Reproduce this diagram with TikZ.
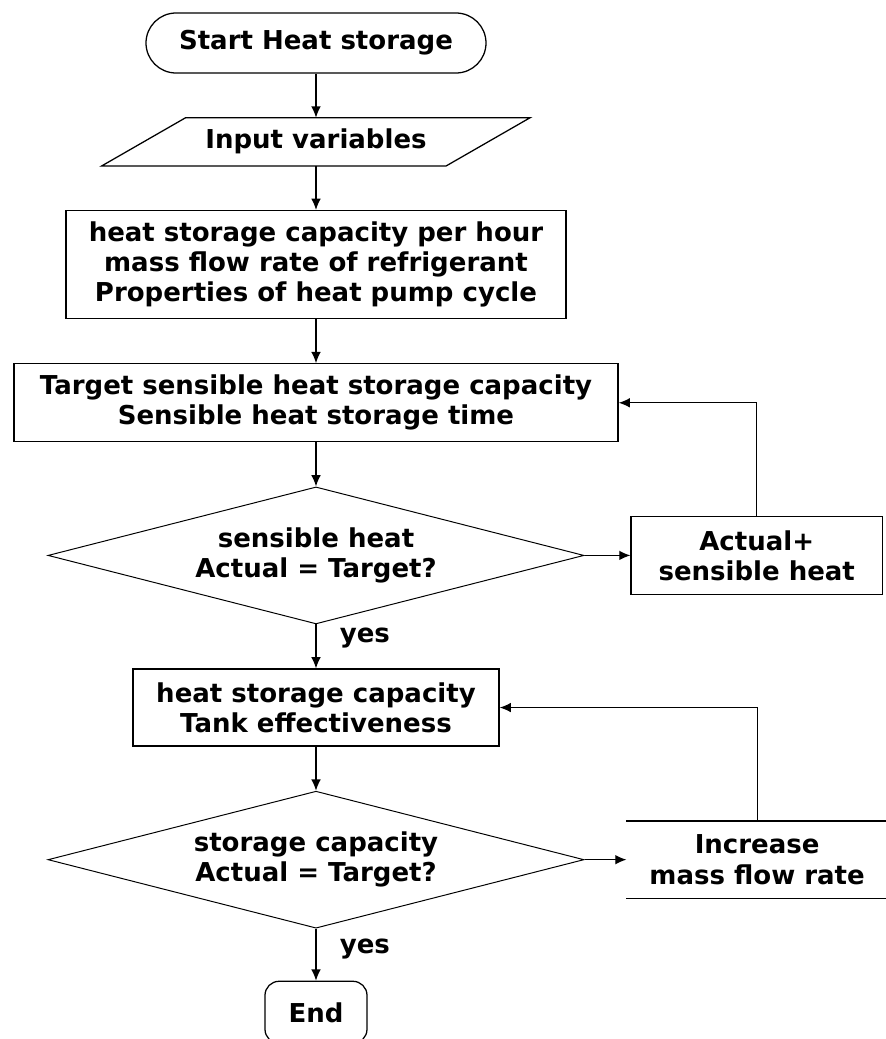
\documentclass[tikz,border=0pt]{standalone}
\usepackage{fontspec}
\setmainfont{DejaVu Sans}
\usetikzlibrary{arrows.meta,positioning,calc,shapes.geometric}
\tikzset{
  base/.style={draw=black,line width=0.9pt,align=center,inner sep=2pt,
    font=\fontsize{18.5}{21.5}\selectfont\bfseries},
  terminal/.style={base,rounded corners=0.75cm,minimum width=8.5cm,minimum height=1.5cm},
  inputbox/.style={base,draw=none,minimum width=8.58cm,minimum height=1.175cm},
  procbox/.style={base,rectangle},
  decision/.style={base,diamond,aspect=3.9,inner sep=0pt,line width=0.7pt,
    minimum width=13.4cm,minimum height=3.425cm},
  openbox/.style={base,draw=none,minimum width=6.5cm,minimum height=1.9cm},
  endbox/.style={base,rounded corners=0.35cm,minimum width=2.55cm,minimum height=1.55cm},
  arrow/.style={-{Latex[length=2.8mm,width=2.4mm]},draw=black,line width=0.9pt},
  yeslabel/.style={font=\fontsize{18.5}{21.5}\selectfont\bfseries,inner sep=0pt,
    anchor=west,xshift=0.58cm}
}
\begin{document}
\begin{tikzpicture}[node distance=1.1cm]
  \useasboundingbox (0,0) rectangle (22.125,-25.975);
  \node[terminal] (start) at (7.9,-1.075) {Start Heat storage};
  \node[inputbox,below=of start] (input) {Input variables};
  \draw[line width=0.9pt] ($(input.north west)+(1.05,0)$) -- ($(input.north east)+(1.05,0)$)
    -- ($(input.south east)+(-1.05,0)$) -- ($(input.south west)+(-1.05,0)$) -- cycle;
  \node[procbox,minimum width=12.5cm,minimum height=2.7cm,below=of input] (params) {heat storage capacity per hour\\mass flow rate of refrigerant\\Properties of heat pump cycle};
  \node[procbox,minimum width=15.1cm,minimum height=1.95cm,below=of params] (target) {Target sensible heat storage capacity\\Sensible heat storage time};
  \node[decision,below=of target] (checkA) {sensible heat\\Actual = Target?};
  \node[procbox,minimum width=6.28cm,minimum height=1.95cm,right=1.15cm of checkA] (addheat) {Actual+\\sensible heat};
  \node[procbox,minimum width=9.15cm,minimum height=1.925cm,below=of checkA] (effect) {heat storage capacity\\Tank effectiveness};
  \node[decision,below=of effect] (checkB) {storage capacity\\Actual = Target?};
  \node[openbox,right=1.05cm of checkB] (increase) {Increase\\mass flow rate};
  \node[endbox,below=1.3cm of checkB] (stop) {End};
  \draw[line width=0.9pt] (increase.north west) -- (increase.north east)
    (increase.south west) -- (increase.south east);
  \draw[arrow] (start)--(input);
  \draw[arrow] (input)--(params);
  \draw[arrow] (params)--(target);
  \draw[arrow] (target)--(checkA);
  \draw[arrow] (checkA)-- node[yeslabel,pos=0.3] (yesA) {yes} (effect);
  \draw[arrow] (effect)--(checkB);
  \draw[arrow] (checkB)-- node[yeslabel,pos=0.4] (yesB) {yes} (stop);
  \draw[arrow] (checkA)--(addheat);
  \draw[arrow] (checkB)--(increase);
  \draw[arrow] (addheat.north) |- (target.east);
  \draw[arrow] (increase.north) |- (effect.east);
\end{tikzpicture}
\end{document}
